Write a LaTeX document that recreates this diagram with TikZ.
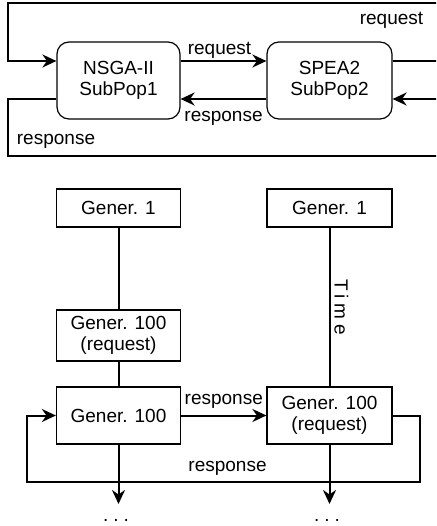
\documentclass[tikz,border=0pt]{standalone}
\usepackage{fontspec}
\setmainfont{Liberation Sans}
\usetikzlibrary{arrows.meta}
\begin{document}
\begin{tikzpicture}[x=1pt,y=-1pt,
  box/.style={draw, line width=1.2pt, align=center, inner sep=0pt, font=\fontsize{19}{21}\selectfont},
  rbox/.style={box, rounded corners=12pt},
  conn/.style={line width=2pt},
  arr/.style={conn, -{Stealth[length=14pt,width=13pt,inset=4.5pt]}},
  lbl/.style={font=\fontsize{19}{21}\selectfont, inner sep=2pt}]
\useasboundingbox (0,0) rectangle (436,526);
\clip (0,0) rectangle (436,526);
% top part
\node[rbox, minimum width=123pt, minimum height=77pt] (NSGA) at (118.5,80.5) {NSGA-II\\SubPop1};
\node[rbox, minimum width=125pt, minimum height=77pt] (SPEA) at (329.5,80.5) {SPEA2\\SubPop2};
\coordinate (tr) at (445,3);
\coordinate (tl) at (8,3);
\coordinate (rin) at (445,99);
\coordinate (bl) at (8,156);
\coordinate (br) at (445,156);
\draw[arr] ([yshift=19.5pt]NSGA.east) -- node[lbl, above, xshift=-4pt] {request} ([yshift=19.5pt]SPEA.west);
\draw[arr] ([yshift=-18.5pt]SPEA.west) -- node[lbl, below, yshift=-9pt] {response} ([yshift=-18.5pt]NSGA.east);
\draw[arr] ([yshift=19.5pt]SPEA.east) -| (tr) -- (tl) |- ([yshift=19.5pt]NSGA.west);
\draw[arr] (rin) -- ([yshift=-18.5pt]SPEA.east);
\draw[conn] ([yshift=-18.5pt]NSGA.west) -| (bl) -- (br);
\node[lbl] (reqtop) at (391.5,20) {request};
\node[lbl] (resbot) at (56,141) {response};
% bottom part
\node[box, minimum width=124pt, minimum height=38pt] (G1L) at (118.5,208) {Gener. 1};
\node[box, minimum width=125pt, minimum height=38pt] (G1R) at (329.5,208) {Gener. 1};
\node[box, minimum width=124pt, minimum height=51pt] (G100rL) at (118.5,335.5) {Gener. 100\\(request)};
\node[box, minimum width=124pt, minimum height=57pt] (G100L) at (118.5,415.5) {Gener. 100};
\node[box, minimum width=125pt, minimum height=57pt] (G100rR) at (329.5,415.5) {Gener. 100\\(request)};
\draw[conn] (G1L) -- (G100rL);
\draw[conn] (G100rL) -- (G100L);
\draw[conn] (G1R) -- node[lbl, rotate=-90, anchor=south, inner sep=4pt] {\addfontfeature{LetterSpace=25}Time} (G100rR);
\draw[arr] (G100L) -- node[lbl, above, yshift=4pt] {response} (G100rR);
\coordinate (c1) at (420,482);
\coordinate (c2) at (27,482);
\draw[arr] (G100rR.east) -| (c1) -- node[lbl, above, yshift=4pt, xshift=4pt] {response} (c2) |- (G100L.west);
\coordinate (d1) at (118.5,504);
\coordinate (d2) at (329.5,504);
\draw[arr] (G100L) -- (d1);
\draw[arr] (G100rR) -- (d2);
\node[lbl, anchor=base] (dotsL) at (116,521) {.\kern5pt.\kern5pt.};
\node[lbl, anchor=base] (dotsR) at (327,521) {.\kern5pt.\kern5pt.};
\end{tikzpicture}
\end{document}
